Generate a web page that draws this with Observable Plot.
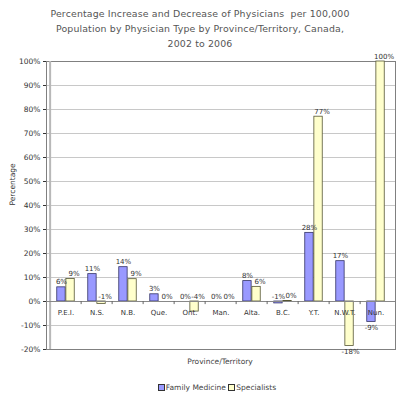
<!DOCTYPE html>
<html>
<head>
<meta charset="utf-8">
<script src="https://cdn.jsdelivr.net/npm/d3@7"></script>
<script src="https://cdn.jsdelivr.net/npm/@observablehq/plot@0.6"></script>
<style>
  html, body { margin: 0; padding: 0; background: #fff; }
  body { width: 400px; height: 397px; overflow: hidden; font-family: "DejaVu Sans", sans-serif; color: #333; }
  #title { height: 49px; box-sizing: border-box; padding-top: 6px; text-align: center; font-size: 9.4px; line-height: 15px; color: #555; letter-spacing: 0.15px; }
  #chart svg { display: block; }
  #xlabel { height: 14px; line-height: 14px; font-size: 7.5px; text-align: center; padding-left: 40px; color: #444; }
  #legend { margin-top: 12px; height: 14px; line-height: 14px; font-size: 7.5px; text-align: center; padding-left: 34px; color: #444; }
  .sw { display: inline-block; width: 5px; height: 5px; border: 1px solid #333; margin-right: 1px; vertical-align: -0.5px; }
</style>
</head>
<body>
<div id="title">Percentage Increase and Decrease of Physicians&nbsp; per 100,000<br>Population by Physician Type by Province/Territory, Canada,<br>2002 to 2006</div>
<div id="chart"></div>
<div id="xlabel">Province/Territory</div>
<div id="legend"></div>
<script>
const categories = ["P.E.I.", "N.S.", "N.B.", "Que.", "Ont.", "Man.", "Alta.", "B.C.", "Y.T.", "N.W.T.", "Nun."];
const familyMedicine = [5.9, 11.4, 14.3, 3.0, 0, 0, 8.5, -0.8, 28.6, 16.8, -8.5];
const specialists = [9.4, -1.0, 9.3, 0, -4.2, 0, 6.1, 0.2, 77.0, -18.5, 100];
const familyLabels = ["6%", "11%", "14%", "3%", "0%", "0%", "8%", "-1%", "28%", "17%", "-9%"];
const specialistLabels = ["9%", "-1%", "9%", "0%", "-4%", "0%", "6%", "0%", "77%", "-18%", "100%"];
const yTicks = [-20, -10, 0, 10, 20, 30, 40, 50, 60, 70, 80, 90, 100];
const seriesNames = ["Family Medicine", "Specialists"];
const seriesColors = ["#9999ff", "#ffffcc"];
const yTitle = "Percentage";

const width = 400, height = 306;
const marginLeft = 46, marginRight = 5, marginTop = 12, marginBottom = 6;
const step = (width - marginLeft - marginRight) / categories.length;
const bw = 9.1;

const rows = categories.map((c, i) => ({
  category: c, fm: familyMedicine[i], sp: specialists[i],
  fmLabel: familyLabels[i], spLabel: specialistLabels[i]
}));
const below = v => v <= -5;
const labelStyle = { fontSize: 7, fill: "#333" };

const plot = Plot.plot({
  width, height, marginLeft, marginRight, marginTop, marginBottom,
  style: { fontFamily: "DejaVu Sans, sans-serif", fontSize: "7.5px", color: "#333", background: "#fff" },
  x: { domain: categories, padding: 0, axis: null },
  y: { domain: [-20, 100], ticks: yTicks, tickFormat: d => d + "%", tickSize: 3, tickPadding: 3, label: null },
  marks: [
    Plot.ruleY(yTicks, { stroke: "#c8c8c8", strokeWidth: 1 }),
    Plot.frame({ stroke: "#808080" }),
    Plot.ruleX([categories[0]], { x: d => d, dx: -step / 2, stroke: "#b8b8b8", strokeWidth: 2 }),
    Plot.barY(rows, { x: "category", y: "fm", fill: seriesColors[0], stroke: "#333366", strokeWidth: 0.8,
      insetLeft: step / 2 - bw, insetRight: step / 2 }),
    Plot.barY(rows, { x: "category", y: "sp", fill: seriesColors[1], stroke: "#555533", strokeWidth: 0.8,
      insetLeft: step / 2, insetRight: step / 2 - bw }),
    Plot.ruleY([0], { stroke: "#888" }),
    Plot.ruleX(categories.slice(1), { x: d => d, dx: -step / 2, y1: 0, y2: -1.3, stroke: "#666" }),
    Plot.text(categories, { x: d => d, y: 0, text: d => d, dy: 11, fontSize: 7, fill: "#333" }),
    Plot.text([yTitle], { frameAnchor: "left", dx: -34, rotate: -90, text: d => d, fontSize: 7.5, fill: "#333" }),
    Plot.text(rows.filter(r => !below(r.fm)), { x: "category", y: r => Math.max(r.fm, 0), text: "fmLabel",
      dx: -bw / 2, dy: -3, lineAnchor: "bottom", ...labelStyle }),
    Plot.text(rows.filter(r => below(r.fm)), { x: "category", y: "fm", text: "fmLabel",
      dx: -bw / 2, dy: 3, lineAnchor: "top", ...labelStyle }),
    Plot.text(rows.filter(r => !below(r.sp)), { x: "category", y: r => Math.max(r.sp, 0), text: "spLabel",
      dx: bw / 2 + 3.5, dy: -3, lineAnchor: "bottom", ...labelStyle }),
    Plot.text(rows.filter(r => below(r.sp)), { x: "category", y: "sp", text: "spLabel",
      dx: bw / 2 + 1, dy: 3, lineAnchor: "top", ...labelStyle })
  ]
});
document.getElementById("chart").appendChild(plot);

const legend = document.getElementById("legend");
seriesNames.forEach((name, i) => {
  const sw = document.createElement("span");
  sw.className = "sw";
  sw.style.background = seriesColors[i];
  legend.appendChild(sw);
  legend.appendChild(document.createTextNode(name + (i === 0 ? " " : "")));
});
</script>
</body>
</html>
